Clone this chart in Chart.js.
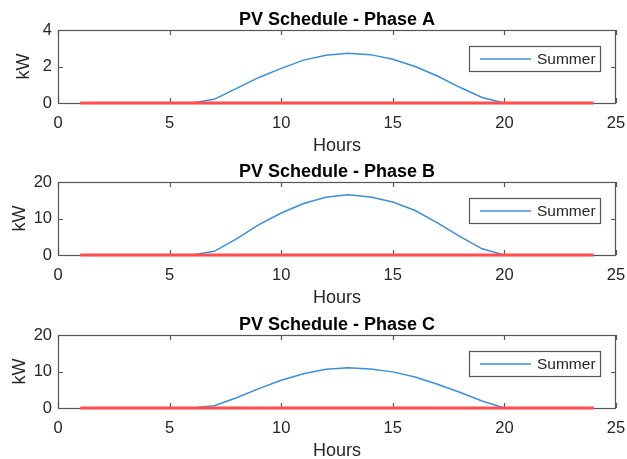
<!DOCTYPE html>
<html>
<head>
<meta charset="utf-8">
<script src="https://cdn.jsdelivr.net/npm/chart.js@4.4.0/dist/chart.umd.min.js"></script>
<style>
  html, body { margin: 0; padding: 0; background: #fff; overflow: hidden; }
  #wrap { position: relative; width: 627px; height: 459px; overflow: hidden; }
  canvas { position: absolute; left: 0; }
</style>
</head>
<body>
<div id="wrap">
  <canvas id="phaseA" width="627" height="157" style="top:0px"></canvas>
  <canvas id="phaseB" width="627" height="157" style="top:152px"></canvas>
  <canvas id="phaseC" width="627" height="157" style="top:305px"></canvas>
</div>
<script>
// hours of the day
const hours = [1,2,3,4,5,6,7,8,9,10,11,12,13,14,15,16,17,18,19,20,21,22,23,24];

// summer PV output per phase (kW)
const summerA = [0,0,0,0,0,0,0.2,0.8,1.4,1.9,2.35,2.62,2.72,2.65,2.4,2.0,1.48,0.86,0.3,0,0,0,0,0];
const summerB = [0,0,0,0,0,0,1.0,4.4,8.3,11.5,14.1,15.8,16.5,15.9,14.5,12.2,8.8,5.1,1.7,0,0,0,0,0];
const summerC = [0,0,0,0,0,0,0.63,2.8,5.3,7.6,9.4,10.6,11.0,10.7,9.9,8.5,6.5,4.3,1.9,0,0,0,0,0];

// second series, flat at zero
const winter = [0,0,0,0,0,0,0,0,0,0,0,0,0,0,0,0,0,0,0,0,0,0,0,0];

// axis ticks
const xTicks = [0, 5, 10, 15, 20, 25];
const yTicksA = [0, 2, 4];
const yTicksBC = [0, 10, 20];

const FONT = "'Liberation Sans', Arial, Helvetica, sans-serif";
const AXIS_COLOR = '#555555';
const TEXT_COLOR = '#262626';

// box, inward ticks, title and legend like a matlab subplot
const matlabAxes = {
  id: 'matlabAxes',
  beforeDatasetsDraw(chart, args, opts) {
    const {ctx, chartArea: a, scales: {x, y}} = chart;
    ctx.save();
    ctx.strokeStyle = AXIS_COLOR;
    ctx.lineWidth = 1.2;
    ctx.strokeRect(Math.round(a.left) + 0.5, Math.round(a.top) + 0.5,
                   Math.round(a.width) - 1, Math.round(a.height));
    ctx.beginPath();
    x.ticks.forEach(t => {
      const px = Math.round(x.getPixelForValue(t.value)) + 0.5;
      ctx.moveTo(px, a.bottom); ctx.lineTo(px, a.bottom - 5);
      ctx.moveTo(px, a.top); ctx.lineTo(px, a.top + 5);
    });
    y.ticks.forEach(t => {
      const py = Math.round(y.getPixelForValue(t.value)) + 0.5;
      ctx.moveTo(a.left, py); ctx.lineTo(a.left + 5, py);
      ctx.moveTo(a.right, py); ctx.lineTo(a.right - 5, py);
    });
    ctx.stroke();
    ctx.restore();
  },
  afterDraw(chart, args, opts) {
    const {ctx, chartArea: a} = chart;
    ctx.save();
    // title
    ctx.fillStyle = '#000';
    ctx.font = 'bold 18px ' + FONT;
    ctx.textAlign = 'center';
    ctx.textBaseline = 'middle';
    ctx.fillText(opts.title, (a.left + a.right) / 2, a.top - 10);
    // legend (first dataset only)
    const ds = chart.data.datasets[0];
    const bx = a.right - 147, by = a.top + 16, bw = 131, bh = 25;
    ctx.fillStyle = '#fff';
    ctx.fillRect(bx, by, bw, bh);
    ctx.strokeStyle = AXIS_COLOR;
    ctx.lineWidth = 1.2;
    ctx.strokeRect(bx + 0.5, by + 0.5, bw, bh);
    ctx.strokeStyle = ds.borderColor;
    ctx.lineWidth = ds.borderWidth;
    ctx.beginPath();
    ctx.moveTo(bx + 11, by + bh / 2 + 0.5);
    ctx.lineTo(bx + 62, by + bh / 2 + 0.5);
    ctx.stroke();
    ctx.fillStyle = TEXT_COLOR;
    ctx.font = '15.5px ' + FONT;
    ctx.textAlign = 'left';
    ctx.fillText(ds.label, bx + 68, by + bh / 2 + 1);
    ctx.restore();
  }
};

function makePhase(id, title, summer, yTicks, kwPad) {
  const ctx = document.getElementById(id).getContext('2d');
  return new Chart(ctx, {
    type: 'line',
    data: {
      datasets: [{
        label: 'Summer',
        data: hours.map((h, i) => ({x: h, y: summer[i]})),
        borderColor: '#3b8fdb',
        borderWidth: 1.5,
        pointRadius: 0,
        tension: 0,
        clip: false,
        order: 1
      }, {
        label: 'Winter',
        data: hours.map((h, i) => ({x: h, y: winter[i]})),
        borderColor: '#ff4d4d',
        borderWidth: 3,
        pointRadius: 0,
        tension: 0,
        clip: false,
        order: 0
      }]
    },
    options: {
      responsive: false,
      animation: false,
      layout: { padding: { left: 0, right: 11, top: 30, bottom: 0 } },
      plugins: {
        legend: { display: false },
        tooltip: { enabled: false },
        matlabAxes: { title: title }
      },
      scales: {
        x: {
          type: 'linear',
          min: xTicks[0],
          max: xTicks[xTicks.length - 1],
          afterBuildTicks: s => { s.ticks = xTicks.map(v => ({value: v})); },
          grid: { display: false, drawTicks: false },
          border: { display: false },
          ticks: { color: TEXT_COLOR, font: { family: FONT, size: 16.5 }, padding: 11, maxRotation: 0 },
          title: { display: true, text: 'Hours', color: TEXT_COLOR,
                   font: { family: FONT, size: 18 }, padding: { top: 0, bottom: 0 } },
          afterFit: s => { s.height = 54; s.paddingLeft = 0; s.paddingRight = 0; }
        },
        y: {
          min: yTicks[0],
          max: yTicks[yTicks.length - 1],
          afterBuildTicks: s => { s.ticks = yTicks.map(v => ({value: v})); },
          grid: { display: false, drawTicks: false },
          border: { display: false },
          ticks: { color: TEXT_COLOR, font: { family: FONT, size: 16.5 }, padding: 6 },
          title: { display: true, text: 'kW', color: TEXT_COLOR,
                   font: { family: FONT, size: 18 }, padding: { top: kwPad, bottom: 0 } },
          afterFit: s => { s.width = 58; }
        }
      }
    },
    plugins: [matlabAxes]
  });
}

makePhase('phaseA', 'PV Schedule - Phase A', summerA, yTicksA, 13);
makePhase('phaseB', 'PV Schedule - Phase B', summerB, yTicksBC, 9);
makePhase('phaseC', 'PV Schedule - Phase C', summerC, yTicksBC, 9);
</script>
</body>
</html>
